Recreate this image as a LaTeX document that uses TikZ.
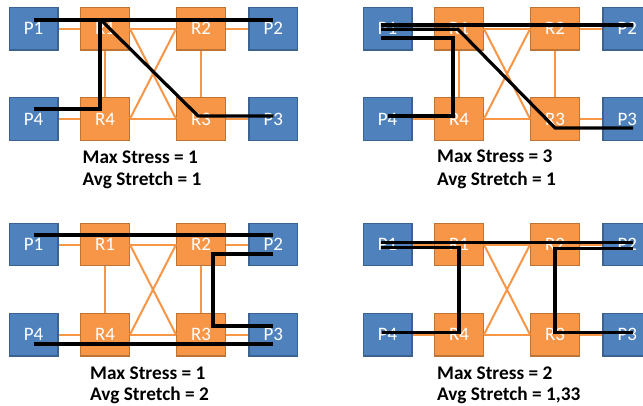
\documentclass[tikz,border=0pt]{standalone}
\usepackage{fontspec}
\setmainfont{Carlito}
\usetikzlibrary{calc}
\definecolor{pfill}{HTML}{4F81BD}
\definecolor{pdraw}{HTML}{3A6391}
\definecolor{rfill}{HTML}{F79646}
\definecolor{rdraw}{HTML}{BE7434}
\definecolor{linkc}{HTML}{F79646}
\tikzset{
  boxbase/.style={rectangle, minimum width=48.5pt, minimum height=42.5pt, inner sep=0pt, line width=1.3pt, text=white, font=\fontsize{19}{19}\selectfont},
  pbox/.style={boxbase, fill=pfill, draw=pdraw},
  rbox/.style={boxbase, fill=rfill, draw=rdraw},
  link/.style={draw=linkc, line width=2pt},
  route/.style={draw=black, line width=3.2pt},
  caption/.style={anchor=base west, inner sep=0pt, font=\bfseries\fontsize{19.3}{19.3}\selectfont},
}
\newcommand\drawnet[3]{%
  \begin{scope}[shift={(#2,#3)}]
    \node[pbox] (#1P1) at (33.6,28.7) {P1};
    \node[rbox] (#1R1) at (105,28.7) {R1};
    \node[rbox] (#1R2) at (201,28.7) {R2};
    \node[pbox] (#1P2) at (273.3,28.7) {P2};
    \node[pbox] (#1P4) at (33.6,118.9) {P4};
    \node[rbox] (#1R4) at (105,118.9) {R4};
    \node[rbox] (#1R3) at (201,118.9) {R3};
    \node[pbox] (#1P3) at (273.3,118.9) {P3};
  \end{scope}
  \draw[link] (#1P1) -- (#1R1);
  \draw[link] (#1R1) -- (#1R2);
  \draw[link] (#1R2) -- (#1P2);
  \draw[link] (#1P4) -- (#1R4);
  \draw[link] (#1R4) -- (#1R3);
  \draw[link] (#1R3) -- (#1P3);
  \draw[link] (#1R1) -- (#1R4);
  \draw[link] (#1R2) -- (#1R3);
  \draw[link] (#1R1.east) -- (#1R3.west);
  \draw[link] (#1R2.west) -- (#1R4.east);
}
\begin{document}
\begin{tikzpicture}[x=1pt,y=-1pt]
\useasboundingbox (0,0) rectangle (643,405);
\clip (0,0) rectangle (643,405);
\fill[white] (0,0) rectangle (643,405);

% panel 1
\drawnet{a}{0}{0}
\draw[route] ($(aP1)+(0,-8.7)$) -- ($(aP2)+(0,-8.7)$);
\draw[route] ($(aP4)+(0,-10)$) -| ($(aR1)+(-5,-8.7)$);
\draw[route, line join=round] ($(aR1)+(-4,-8.7)$) -- ($(aR3)+(-3,-3)$) -- ($(aP3)+(0,-3)$);
\node[caption] (ta1) at (82.5,163) {Max Stress = 1};
\node[caption] (ta2) at (82.5,185) {Avg Stretch = 1};

% panel 2
\drawnet{b}{354}{0}
\draw[route] ($(bP1)+(-6.6,-3.7)$) -- ($(bP2)+(5.7,-3.7)$);
\draw[route] ($(bP1)+(-6.6,0.6)$) -- ($(bR1)+(-1,0.6)$) -- ($(bR3)+(0,9)$) -- ($(bP3)+(5.7,9)$);
\draw[route] ($(bP1)+(-6.6,9.3)$) -| ($(bR4)+(-6,-3)$) -- ($(bP4)+(0,-3)$);
\node[caption] (tb1) at (437,162) {Max Stress = 3};
\node[caption] (tb2) at (437,185) {Avg Stretch = 1};

% panel 3
\drawnet{c}{0}{215.8}
\draw[route] ($(cP1)+(0,-9.5)$) -- ($(cP2)+(0,-9.5)$);
\draw[route] ($(cP2)+(0,9.5)$) -| ($(cR3)+(12,-8.7)$) -- ($(cP3)+(0,-8.7)$);
\draw[route] ($(cP4)+(0,9.3)$) -- ($(cP3)+(0,9.3)$);
\node[caption] (tc1) at (90,379) {Max Stress = 1};
\node[caption] (tc2) at (90,400) {Avg Stretch = 2};

% panel 4
\drawnet{d}{354}{215.8}
\draw[route] ($(dP1)+(-6.6,-1.8)$) -- ($(dP2)+(5.7,-1.8)$);
\draw[route] ($(dP1)+(-6.6,3.2)$) -| ($(dR4)+(0,-2)$) -- ($(dP4)+(-6,-2)$);
\draw[route] ($(dP2)+(5.7,4)$) -| ($(dR3)+(0,-2)$) -- ($(dP3)+(5.7,-2)$);
\node[caption] (td1) at (437,379) {Max Stress = 2};
\node[caption] (td2) at (437,400) {Avg Stretch = 1,33};
\end{tikzpicture}
\end{document}
